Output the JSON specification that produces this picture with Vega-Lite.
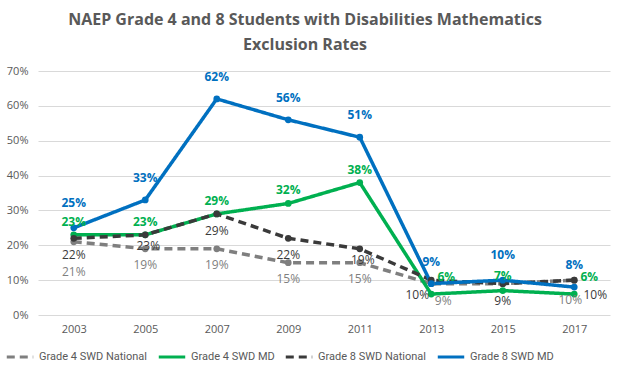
{
  "$schema": "https://vega.github.io/schema/vega-lite/v6.json",
  "width": 572,
  "height": 244,
  "padding": {"left": 5, "right": 10, "top": 12, "bottom": 5},
  "background": "white",
  "config": {
    "font": "Open Sans",
    "view": {"stroke": null},
    "axis": {"labelFont": "Open Sans", "labelColor": "#595959", "labelFontSize": 11}
  },
  "title": {
    "text": ["NAEP Grade 4 and 8 Students with Disabilities Mathematics", "Exclusion Rates"],
    "fontSize": 16,
    "fontWeight": "bold",
    "color": "#595959",
    "font": "Open Sans",
    "lineHeight": 25,
    "offset": 12,
    "dx": -19
  },
  "data": {
    "values": [
      {"year": "2003", "series": "Grade 4 SWD National", "rate": 0.21},
      {"year": "2005", "series": "Grade 4 SWD National", "rate": 0.19},
      {"year": "2007", "series": "Grade 4 SWD National", "rate": 0.19},
      {"year": "2009", "series": "Grade 4 SWD National", "rate": 0.15},
      {"year": "2011", "series": "Grade 4 SWD National", "rate": 0.15},
      {"year": "2013", "series": "Grade 4 SWD National", "rate": 0.09},
      {"year": "2015", "series": "Grade 4 SWD National", "rate": 0.09},
      {"year": "2017", "series": "Grade 4 SWD National", "rate": 0.10},
      {"year": "2003", "series": "Grade 4 SWD MD", "rate": 0.23},
      {"year": "2005", "series": "Grade 4 SWD MD", "rate": 0.23},
      {"year": "2007", "series": "Grade 4 SWD MD", "rate": 0.29},
      {"year": "2009", "series": "Grade 4 SWD MD", "rate": 0.32},
      {"year": "2011", "series": "Grade 4 SWD MD", "rate": 0.38},
      {"year": "2013", "series": "Grade 4 SWD MD", "rate": 0.06},
      {"year": "2015", "series": "Grade 4 SWD MD", "rate": 0.07},
      {"year": "2017", "series": "Grade 4 SWD MD", "rate": 0.06},
      {"year": "2003", "series": "Grade 8 SWD National", "rate": 0.22},
      {"year": "2005", "series": "Grade 8 SWD National", "rate": 0.23},
      {"year": "2007", "series": "Grade 8 SWD National", "rate": 0.29},
      {"year": "2009", "series": "Grade 8 SWD National", "rate": 0.22},
      {"year": "2011", "series": "Grade 8 SWD National", "rate": 0.19},
      {"year": "2013", "series": "Grade 8 SWD National", "rate": 0.10},
      {"year": "2015", "series": "Grade 8 SWD National", "rate": 0.09},
      {"year": "2017", "series": "Grade 8 SWD National", "rate": 0.10},
      {"year": "2003", "series": "Grade 8 SWD MD", "rate": 0.25},
      {"year": "2005", "series": "Grade 8 SWD MD", "rate": 0.33},
      {"year": "2007", "series": "Grade 8 SWD MD", "rate": 0.62},
      {"year": "2009", "series": "Grade 8 SWD MD", "rate": 0.56},
      {"year": "2011", "series": "Grade 8 SWD MD", "rate": 0.51},
      {"year": "2013", "series": "Grade 8 SWD MD", "rate": 0.09},
      {"year": "2015", "series": "Grade 8 SWD MD", "rate": 0.10},
      {"year": "2017", "series": "Grade 8 SWD MD", "rate": 0.08}
    ]
  },
  "encoding": {
    "x": {
      "field": "year", "type": "ordinal", "title": null,
      "axis": {"labelAngle": 0, "ticks": false, "domain": false, "labelPadding": 8}
    },
    "y": {
      "field": "rate", "type": "quantitative", "title": null,
      "scale": {"domain": [0, 0.7]},
      "axis": {"format": ".0%", "tickCount": 8, "ticks": false, "domain": false, "gridColor": "#d9d9d9", "labelPadding": 10}
    },
    "text": {"field": "rate", "type": "quantitative", "format": ".0%"}
  },
  "layer": [
    {
      "mark": {"type": "line", "strokeWidth": 3.5, "point": {"size": 45, "filled": true}},
      "encoding": {
        "text": null,
        "color": {
          "field": "series", "type": "nominal",
          "sort": ["Grade 4 SWD National", "Grade 4 SWD MD", "Grade 8 SWD National", "Grade 8 SWD MD"],
          "scale": {
            "domain": ["Grade 4 SWD National", "Grade 4 SWD MD", "Grade 8 SWD National", "Grade 8 SWD MD"],
            "range": ["#7f7f7f", "#00b050", "#3a3a3a", "#0070c0"]
          },
          "legend": {
            "orient": "none", "legendX": -33, "legendY": 271, "direction": "horizontal", "title": null,
            "columns": 4, "gridAlign": "none",
            "labelFont": "Roboto",
            "labelFontSize": 11, "labelColor": "#595959", "symbolType": "stroke",
            "symbolStrokeWidth": 3, "symbolSize": 700, "columnPadding": 4, "labelOffset": 4
          }
        },
        "strokeDash": {
          "field": "series", "type": "nominal",
          "scale": {
            "domain": ["Grade 4 SWD National", "Grade 4 SWD MD", "Grade 8 SWD National", "Grade 8 SWD MD"],
            "range": [[8, 5], [1, 0], [8, 5], [1, 0]]
          },
          "legend": null
        }
      }
    },
    {
      "transform": [{"filter": "datum.series == 'Grade 4 SWD National' && datum.year == '2003'"}],
      "mark": {"type": "text", "dy": 30, "fontSize": 12, "color": "#7f7f7f"}
    },
    {
      "transform": [{"filter": "datum.series == 'Grade 4 SWD National' && datum.year > '2003' && datum.year < '2013'"}],
      "mark": {"type": "text", "dy": 16, "fontSize": 12, "color": "#7f7f7f"}
    },
    {
      "transform": [{"filter": "datum.series == 'Grade 4 SWD National' && datum.year == '2013'"}],
      "mark": {"type": "text", "dx": 12, "dy": 17, "fontSize": 12, "color": "#7f7f7f"}
    },
    {
      "transform": [{"filter": "datum.series == 'Grade 4 SWD National' && datum.year == '2017'"}],
      "mark": {"type": "text", "dx": -4, "dy": 20, "fontSize": 12, "color": "#7f7f7f"}
    },
    {
      "transform": [{"filter": "datum.series == 'Grade 8 SWD National' && indexof(['2003','2007','2009','2015'], datum.year) >= 0"}],
      "mark": {"type": "text", "dy": 17, "fontSize": 12, "color": "#3a3a3a"}
    },
    {
      "transform": [{"filter": "datum.series == 'Grade 8 SWD National' && (datum.year == '2005' || datum.year == '2011')"}],
      "mark": {"type": "text", "dx": 3, "dy": 11, "fontSize": 12, "color": "#3a3a3a"}
    },
    {
      "transform": [{"filter": "datum.series == 'Grade 8 SWD National' && datum.year == '2013'"}],
      "mark": {"type": "text", "dx": -14, "dy": 15, "fontSize": 12, "color": "#3a3a3a"}
    },
    {
      "transform": [{"filter": "datum.series == 'Grade 8 SWD National' && datum.year == '2017'"}],
      "mark": {"type": "text", "dx": 21, "dy": 15, "fontSize": 12, "color": "#3a3a3a"}
    },
    {
      "transform": [{"filter": "datum.series == 'Grade 4 SWD MD' && datum.year < '2013'"}],
      "mark": {"type": "text", "dy": -13, "fontSize": 12, "fontWeight": "bold", "color": "#00b050"}
    },
    {
      "transform": [{"filter": "datum.series == 'Grade 4 SWD MD' && datum.year == '2015'"}],
      "mark": {"type": "text", "dy": -15, "fontSize": 12, "fontWeight": "bold", "color": "#00b050"}
    },
    {
      "transform": [{"filter": "datum.series == 'Grade 4 SWD MD' && (datum.year == '2013' || datum.year == '2017')"}],
      "mark": {"type": "text", "dx": 15, "dy": -17, "fontSize": 12, "fontWeight": "bold", "color": "#00b050"}
    },
    {
      "transform": [{"filter": "datum.series == 'Grade 8 SWD MD' && (datum.year == '2003' || datum.year == '2015')"}],
      "mark": {"type": "text", "dy": -25, "fontSize": 12, "fontWeight": "bold", "color": "#0070c0"}
    },
    {
      "transform": [{"filter": "datum.series == 'Grade 8 SWD MD' && datum.year != '2003' && datum.year != '2015'"}],
      "mark": {"type": "text", "dy": -22, "fontSize": 12, "fontWeight": "bold", "color": "#0070c0"}
    }
  ]
}
